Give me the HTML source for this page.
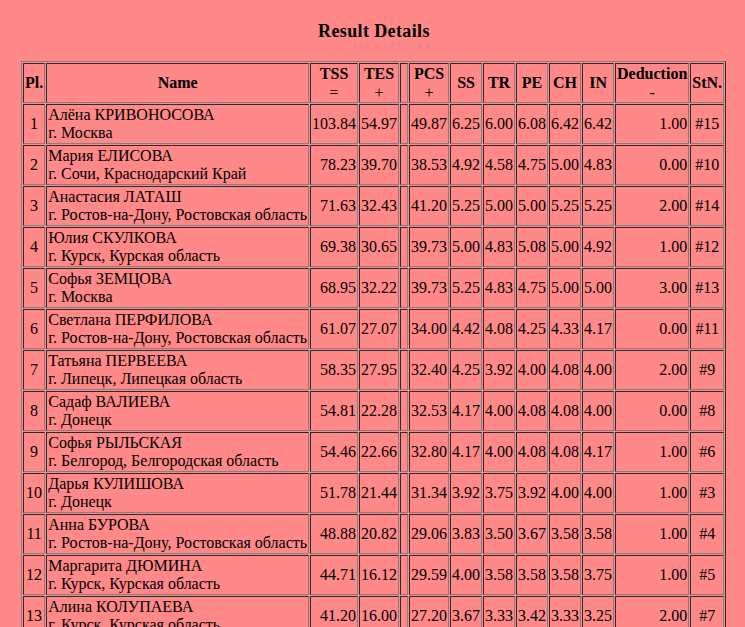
<!DOCTYPE html>
<html><head><meta charset="utf-8">
<style>
body{background:#FF8888;font-family:"Liberation Serif",serif;margin:8px;}
h2{font-size:18px;margin:13px 0 0;height:40px;padding-left:310px;letter-spacing:0.38px;}
table{margin-left:13px;}
.n{font-weight:normal;position:relative;top:1px;}
</style></head><body>
<h2>Result Details</h2>
<table border="1" cellspacing="1">
<tr><th>Pl.</th><th>Name</th><th>TSS<br><span class="n">=</span></th><th>TES<br><span class="n">+</span></th><th>&nbsp;</th><th>PCS<br><span class="n">+</span></th><th>SS</th><th>TR</th><th>PE</th><th>CH</th><th>IN</th><th>Deduction<br><span class="n">-</span></th><th>StN.</th></tr>
<tr><td align="center">1</td><td>Алёна КРИВОНОСОВА<br>г. Москва</td><td align="right">103.84</td><td align="right">54.97</td><td></td><td align="right">49.87</td><td align="right">6.25</td><td align="right">6.00</td><td align="right">6.08</td><td align="right">6.42</td><td align="right">6.42</td><td align="right">1.00</td><td align="center">#15</td></tr>
<tr><td align="center">2</td><td>Мария ЕЛИСОВА<br>г. Сочи, Краснодарский Край</td><td align="right">78.23</td><td align="right">39.70</td><td></td><td align="right">38.53</td><td align="right">4.92</td><td align="right">4.58</td><td align="right">4.75</td><td align="right">5.00</td><td align="right">4.83</td><td align="right">0.00</td><td align="center">#10</td></tr>
<tr><td align="center">3</td><td>Анастасия ЛАТАШ<br>г. Ростов-на-Дону, Ростовская область</td><td align="right">71.63</td><td align="right">32.43</td><td></td><td align="right">41.20</td><td align="right">5.25</td><td align="right">5.00</td><td align="right">5.00</td><td align="right">5.25</td><td align="right">5.25</td><td align="right">2.00</td><td align="center">#14</td></tr>
<tr><td align="center">4</td><td>Юлия СКУЛКОВА<br>г. Курск, Курская область</td><td align="right">69.38</td><td align="right">30.65</td><td></td><td align="right">39.73</td><td align="right">5.00</td><td align="right">4.83</td><td align="right">5.08</td><td align="right">5.00</td><td align="right">4.92</td><td align="right">1.00</td><td align="center">#12</td></tr>
<tr><td align="center">5</td><td>Софья ЗЕМЦОВА<br>г. Москва</td><td align="right">68.95</td><td align="right">32.22</td><td></td><td align="right">39.73</td><td align="right">5.25</td><td align="right">4.83</td><td align="right">4.75</td><td align="right">5.00</td><td align="right">5.00</td><td align="right">3.00</td><td align="center">#13</td></tr>
<tr><td align="center">6</td><td>Светлана ПЕРФИЛОВА<br>г. Ростов-на-Дону, Ростовская область</td><td align="right">61.07</td><td align="right">27.07</td><td></td><td align="right">34.00</td><td align="right">4.42</td><td align="right">4.08</td><td align="right">4.25</td><td align="right">4.33</td><td align="right">4.17</td><td align="right">0.00</td><td align="center">#11</td></tr>
<tr><td align="center">7</td><td>Татьяна ПЕРВЕЕВА<br>г. Липецк, Липецкая область</td><td align="right">58.35</td><td align="right">27.95</td><td></td><td align="right">32.40</td><td align="right">4.25</td><td align="right">3.92</td><td align="right">4.00</td><td align="right">4.08</td><td align="right">4.00</td><td align="right">2.00</td><td align="center">#9</td></tr>
<tr><td align="center">8</td><td>Садаф ВАЛИЕВА<br>г. Донецк</td><td align="right">54.81</td><td align="right">22.28</td><td></td><td align="right">32.53</td><td align="right">4.17</td><td align="right">4.00</td><td align="right">4.08</td><td align="right">4.08</td><td align="right">4.00</td><td align="right">0.00</td><td align="center">#8</td></tr>
<tr><td align="center">9</td><td>Софья РЫЛЬСКАЯ<br>г. Белгород, Белгородская область</td><td align="right">54.46</td><td align="right">22.66</td><td></td><td align="right">32.80</td><td align="right">4.17</td><td align="right">4.00</td><td align="right">4.08</td><td align="right">4.08</td><td align="right">4.17</td><td align="right">1.00</td><td align="center">#6</td></tr>
<tr><td align="center">10</td><td>Дарья КУЛИШОВА<br>г. Донецк</td><td align="right">51.78</td><td align="right">21.44</td><td></td><td align="right">31.34</td><td align="right">3.92</td><td align="right">3.75</td><td align="right">3.92</td><td align="right">4.00</td><td align="right">4.00</td><td align="right">1.00</td><td align="center">#3</td></tr>
<tr><td align="center">11</td><td>Анна БУРОВА<br>г. Ростов-на-Дону, Ростовская область</td><td align="right">48.88</td><td align="right">20.82</td><td></td><td align="right">29.06</td><td align="right">3.83</td><td align="right">3.50</td><td align="right">3.67</td><td align="right">3.58</td><td align="right">3.58</td><td align="right">1.00</td><td align="center">#4</td></tr>
<tr><td align="center">12</td><td>Маргарита ДЮМИНА<br>г. Курск, Курская область</td><td align="right">44.71</td><td align="right">16.12</td><td></td><td align="right">29.59</td><td align="right">4.00</td><td align="right">3.58</td><td align="right">3.58</td><td align="right">3.58</td><td align="right">3.75</td><td align="right">1.00</td><td align="center">#5</td></tr>
<tr><td align="center">13</td><td>Алина КОЛУПАЕВА<br>г. Курск, Курская область</td><td align="right">41.20</td><td align="right">16.00</td><td></td><td align="right">27.20</td><td align="right">3.67</td><td align="right">3.33</td><td align="right">3.42</td><td align="right">3.33</td><td align="right">3.25</td><td align="right">2.00</td><td align="center">#7</td></tr>
</table>
</body></html>
